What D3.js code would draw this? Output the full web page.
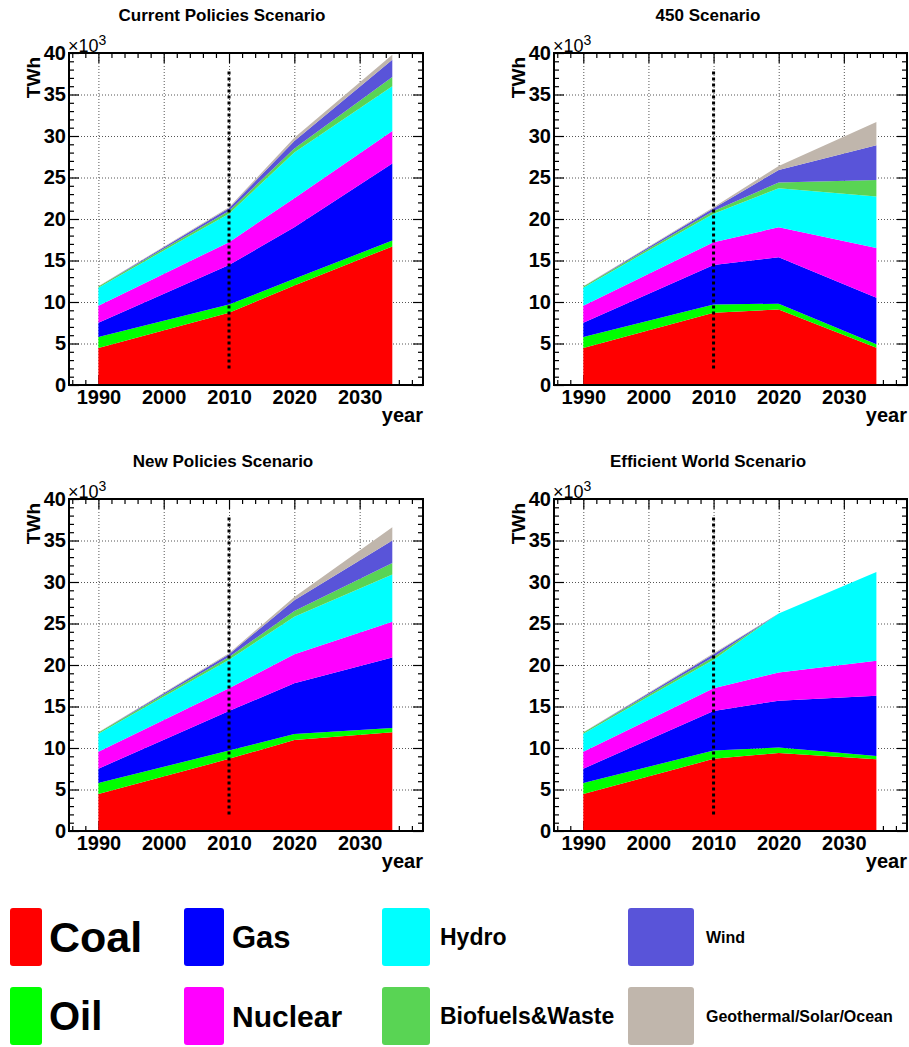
<!DOCTYPE html>
<html>
<head>
<meta charset="utf-8">
<script src="https://cdn.jsdelivr.net/npm/d3@7"></script>
<style>
  body { margin: 0; background: #fff; }
  svg text { font-family: "Liberation Sans", Arial, Helvetica, sans-serif; }
</style>
</head>
<body>
<script>

// ---- data (values in 10^3 TWh) ----
const years = [1990, 2010, 2020, 2035];

const sources = ['Coal', 'Oil', 'Gas', 'Nuclear', 'Hydro',
  'Biofuels&Waste', 'Wind', 'Geothermal/Solar/Ocean'];

const titles = ['Current Policies Scenario', '450 Scenario',
  'New Policies Scenario', 'Efficient World Scenario'];

// one row per source, same order as `sources`
const currentPolicies = [
  [4.45, 8.69, 12.0, 16.7],
  [1.33, 1.00, 0.80, 0.70],
  [1.73, 4.76, 6.20, 9.30],
  [2.05, 2.76, 3.50, 3.90],
  [2.17, 3.43, 5.50, 5.40],
  [0.13, 0.33, 0.50, 1.10],
  [0.01, 0.34, 0.90, 2.10],
  [0.04, 0.10, 0.40, 0.60]
];

const scenario450 = [
  [4.45, 8.69, 9.10, 4.50],
  [1.33, 1.00, 0.70, 0.40],
  [1.73, 4.76, 5.60, 5.60],
  [2.05, 2.76, 3.60, 6.00],
  [2.17, 3.43, 4.70, 6.20],
  [0.13, 0.33, 0.70, 2.00],
  [0.01, 0.34, 1.50, 4.20],
  [0.04, 0.10, 0.50, 2.80]
];

const newPolicies = [
  [4.45, 8.69, 10.95, 11.9],
  [1.33, 1.00, 0.75, 0.50],
  [1.73, 4.76, 6.10, 8.50],
  [2.05, 2.76, 3.50, 4.30],
  [2.17, 3.43, 4.50, 5.70],
  [0.13, 0.33, 0.70, 1.40],
  [0.01, 0.34, 1.30, 2.70],
  [0.04, 0.10, 0.40, 1.60]
];

const efficientWorld = [
  [4.45, 8.69, 9.40, 8.65],
  [1.33, 1.00, 0.65, 0.40],
  [1.73, 4.76, 5.65, 7.25],
  [2.05, 2.76, 3.40, 4.20],
  [2.17, 3.43, 7.10, 10.7],
  [0.13, 0.33, 0, 0],
  [0.01, 0.34, 0, 0],
  [0.04, 0.10, 0, 0]
];

const yMajorTicks = [0, 5, 10, 15, 20, 25, 30, 35, 40];
const xMajorTicks = [1990, 2000, 2010, 2020, 2030];
const markerYear = 2010;
const markerSpan = [2, 38];

// ---- styles / layout ----
const colors = ['#ff0000', '#00ff00', '#0000ff', '#ff00ff', '#00ffff',
  '#59d454', '#5954d9', '#c0b6ac'];

const W = 909, H = 1047;

const panels = [
  { data: currentPolicies, left: 69, top: 53, width: 354, height: 332, titleX: 222 },
  { data: scenario450, left: 554, top: 53, width: 353, height: 332, titleX: 708 },
  { data: newPolicies, left: 69, top: 499, width: 354, height: 332, titleX: 223 },
  { data: efficientWorld, left: 554, top: 499, width: 353, height: 332, titleX: 708 }
];

const svg = d3.select('body').append('svg')
  .attr('width', W)
  .attr('height', H);

panels.forEach((p, i) => drawPanel(p, titles[i]));
drawLegend();

function drawPanel(p, title) {

  const w = p.width, h = p.height;

  const x = d3.scaleLinear().domain([1985.5, 2039.7]).range([0, w]);
  const y = d3.scaleLinear().domain([0, 40]).range([h, 0]);

  const g = svg.append('g')
    .attr('transform', `translate(${p.left},${p.top})`);

  // title
  svg.append('text')
    .attr('x', p.titleX)
    .attr('y', p.top - 32)
    .attr('text-anchor', 'middle')
    .style('font-size', '17px')
    .style('font-weight', 'bold')
    .text(title);

  // grid
  const gridY = g.append('g')
    .call(d3.axisLeft(y).tickValues(yMajorTicks.slice(1, -1)).tickSize(-w).tickFormat(''));
  const gridX = g.append('g')
    .attr('transform', `translate(0,${h})`)
    .call(d3.axisBottom(x).tickValues(xMajorTicks).tickSize(-h).tickFormat(''));
  [gridX, gridY].forEach(a => {
    a.select('.domain').remove();
    a.selectAll('line')
      .attr('stroke', '#555')
      .attr('stroke-width', 1)
      .attr('stroke-dasharray', '1,2');
  });

  // ticks (inside the frame, on all four sides)
  const yMinor = d3.range(1, 40).filter(v => v % 5 !== 0);
  const xMinor = d3.range(1986, 2040, 2).filter(v => v % 10 !== 0);

  const tickAxes = [
    g.append('g').call(d3.axisLeft(y).tickValues(yMajorTicks).tickSize(-10).tickPadding(3)),
    g.append('g').call(d3.axisLeft(y).tickValues(yMinor).tickSize(-5).tickFormat('')),
    g.append('g').attr('transform', `translate(${w},0)`)
      .call(d3.axisRight(y).tickValues(yMajorTicks).tickSize(-10).tickFormat('')),
    g.append('g').attr('transform', `translate(${w},0)`)
      .call(d3.axisRight(y).tickValues(yMinor).tickSize(-5).tickFormat('')),
    g.append('g').attr('transform', `translate(0,${h})`)
      .call(d3.axisBottom(x).tickValues(xMajorTicks).tickSize(-10).tickPadding(5).tickFormat(d3.format('d'))),
    g.append('g').attr('transform', `translate(0,${h})`)
      .call(d3.axisBottom(x).tickValues(xMinor).tickSize(-5).tickFormat('')),
    g.append('g').call(d3.axisTop(x).tickValues(xMajorTicks).tickSize(-10).tickFormat('')),
    g.append('g').call(d3.axisTop(x).tickValues(xMinor).tickSize(-5).tickFormat(''))
  ];
  tickAxes.forEach(a => {
    a.select('.domain').remove();
    a.selectAll('line').attr('stroke', '#000').attr('stroke-width', 1.2);
    a.selectAll('text')
      .attr('fill', '#000')
      .style('font-size', '20px')
      .style('font-weight', 'bold');
  });

  // stacked areas
  const table = years.map((yr, j) => {
    const row = { year: yr };
    sources.forEach((s, k) => { row[s] = p.data[k][j]; });
    return row;
  });

  const layers = d3.stack().keys(sources)(table);

  const area = d3.area()
    .x(d => x(d.data.year))
    .y0(d => y(d[0]))
    .y1(d => y(d[1]));

  g.selectAll('path.layer')
    .data(layers)
    .join('path')
      .attr('class', 'layer')
      .attr('fill', (d, k) => colors[k])
      .attr('d', area);

  // frame
  g.append('rect')
    .attr('width', w)
    .attr('height', h)
    .attr('fill', 'none')
    .attr('stroke', '#000')
    .attr('stroke-width', 2);

  // 2010 marker
  g.append('line')
    .attr('x1', x(markerYear))
    .attr('x2', x(markerYear))
    .attr('y1', y(markerSpan[0]))
    .attr('y2', y(markerSpan[1]))
    .attr('stroke', '#000')
    .attr('stroke-width', 3)
    .attr('stroke-dasharray', '3,3');

  // axis titles
  g.append('text')
    .attr('x', w)
    .attr('y', h + 37)
    .attr('text-anchor', 'end')
    .style('font-size', '20px')
    .style('font-weight', 'bold')
    .text('year');

  g.append('text')
    .attr('transform', `translate(-29,4) rotate(-90)`)
    .attr('text-anchor', 'end')
    .style('font-size', '19px')
    .style('font-weight', 'bold')
    .text('TWh');

  const mult = g.append('text')
    .attr('x', -1)
    .attr('y', -1.5)
    .style('font-size', '18px');
  mult.append('tspan').text('\u00d710');
  mult.append('tspan')
    .attr('dy', -7)
    .style('font-size', '14px')
    .text('3');
}

function drawLegend() {

  const colX = [10, 184, 382, 628];
  const colW = [32, 40, 48, 66];
  const textX = [49, 232, 440, 706];
  const rowY = [908, 987];
  const boxH = 58;
  const fontSizes = [43, 40, 31, 30, 23, 23, 16, 16];

  const item = svg.append('g')
    .selectAll('g')
    .data(sources)
    .join('g')
      .attr('transform', (d, i) =>
        `translate(0,${rowY[i % 2]})`);

  item.append('rect')
    .attr('x', (d, i) => colX[Math.floor(i / 2)])
    .attr('width', (d, i) => colW[Math.floor(i / 2)])
    .attr('height', boxH)
    .attr('rx', 3)
    .attr('fill', (d, i) => colors[i]);

  item.append('text')
    .attr('x', (d, i) => textX[Math.floor(i / 2)])
    .attr('y', (d, i) => boxH / 2 + fontSizes[i] * 0.36)
    .style('font-size', (d, i) => fontSizes[i] + 'px')
    .style('font-weight', 'bold')
    .text(d => d);
}

</script>
</body>
</html>
